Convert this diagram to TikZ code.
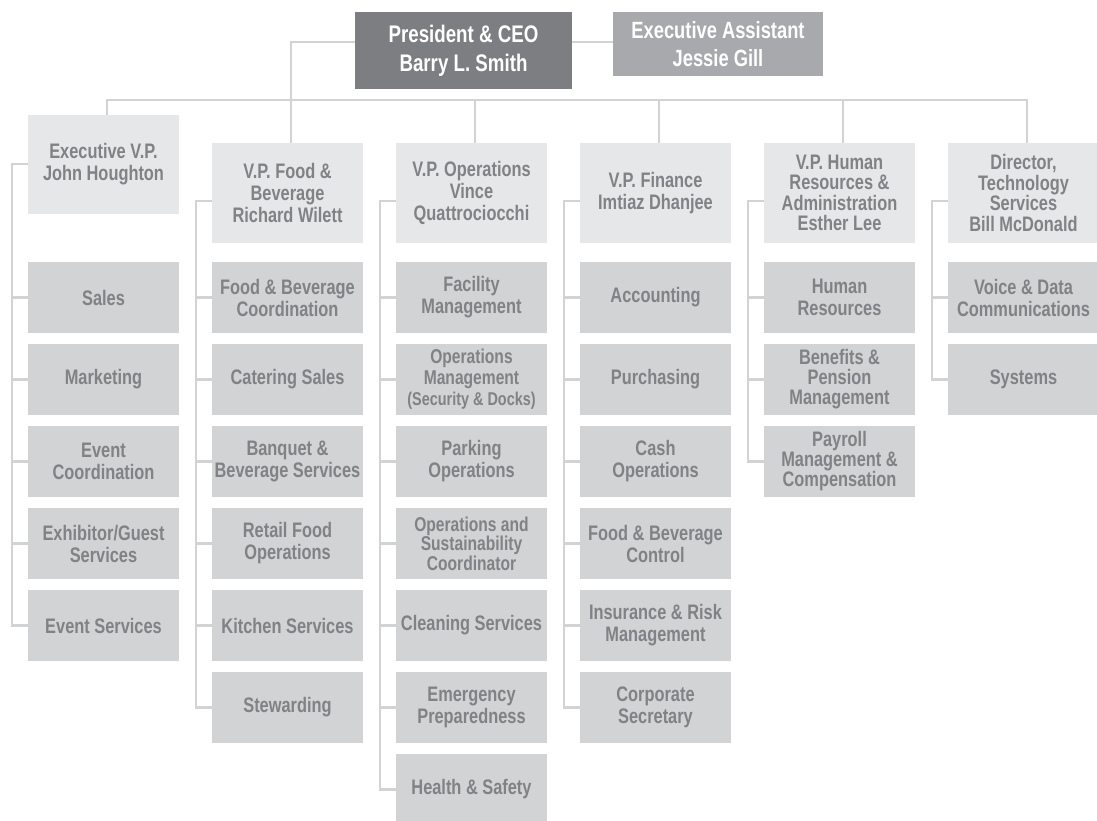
\documentclass[tikz,border=0pt]{standalone}
\usepackage{fontspec}
\newfontfamily\orgfont[FakeStretch=0.78]{Liberation Sans}
\definecolor{linec}{HTML}{D1D3D4}
\definecolor{vpc}{HTML}{E6E7E8}
\definecolor{unitc}{HTML}{D1D3D4}
\definecolor{textc}{HTML}{808285}
\definecolor{ceoc}{HTML}{7D7E81}
\definecolor{eac}{HTML}{A7A9AC}
\begin{document}
\begin{tikzpicture}[x=1pt,y=-1pt,
  conn/.style={draw=linec,line width=2.6pt},
  basebox/.style={rectangle,inner sep=0pt,align=center,text=textc,minimum width=151pt,
    font={\orgfont\bfseries\fontsize{21pt}{22pt}\selectfont}},
  tight/.style={font={\orgfont\bfseries\fontsize{21pt}{20pt}\selectfont}},
  small/.style={font={\orgfont\bfseries\fontsize{20pt}{19.5pt}\selectfont}},
  vpbox/.style={basebox,fill=vpc,minimum height=100pt},
  unitbox/.style={basebox,fill=unitc,minimum height=71pt},
  topbox/.style={rectangle,inner sep=0pt,align=center,text=white}]
\useasboundingbox (0,0) rectangle (1097,821);
\fill[white] (0,0) rectangle (1097,821);
\clip (0,0) rectangle (1097,821);

% top
\node[topbox,fill=ceoc,minimum width=217pt,minimum height=77pt,
  font={\orgfont\bfseries\fontsize{24pt}{29pt}\selectfont}] (ceo) at (463.5,50.5) {President \& CEO\\Barry L. Smith};
\node[topbox,fill=eac,minimum width=210pt,minimum height=64pt,
  font={\orgfont\bfseries\fontsize{23.5pt}{28pt}\selectfont}] (ea) at (718,44) {Executive Assistant\\Jessie Gill};

% VP row
\node[vpbox,minimum height=99pt] (vp1) at (103.5,164.5) {Executive V.P.\\John Houghton};
\node[vpbox] (vp2) at (287.5,193) {V.P. Food \&\\Beverage\\Richard Wilett};
\node[vpbox] (vp3) at (471.5,193) {V.P. Operations\\Vince\\Quattrociocchi};
\node[vpbox] (vp4) at (655.5,193) {V.P. Finance\\Imtiaz Dhanjee};
\node[vpbox,font={\orgfont\bfseries\fontsize{21pt}{20.5pt}\selectfont}] (vp5) at (839.5,193) {V.P. Human\\Resources \&\\Administration\\Esther Lee};
\node[vpbox,font={\orgfont\bfseries\fontsize{21pt}{20.5pt}\selectfont}] (vp6) at (1023.5,193) {Director,\\Technology\\Services\\Bill McDonald};

% column 1
\node[unitbox] (c1a) at (103.5,297.5) {Sales};
\node[unitbox] (c1b) at (103.5,379.5) {Marketing};
\node[unitbox] (c1c) at (103.5,461.5) {Event\\Coordination};
\node[unitbox] (c1d) at (103.5,543.5) {Exhibitor/Guest\\Services};
\node[unitbox] (c1e) at (103.5,625.5) {Event Services};

% column 2
\node[unitbox] (c2a) at (287.5,297.5) {Food \& Beverage\\Coordination};
\node[unitbox] (c2b) at (287.5,379.5) {Catering Sales};
\node[unitbox] (c2c) at (287.5,461.5) {Banquet \&\\Beverage Services};
\node[unitbox] (c2d) at (287.5,543.5) {Retail Food\\Operations};
\node[unitbox] (c2e) at (287.5,625.5) {Kitchen Services};
\node[unitbox] (c2f) at (287.5,707.5) {Stewarding};

% column 3
\node[unitbox,font={\orgfont\bfseries\fontsize{20pt}{21pt}\selectfont}] (c3b) at (471.5,379.5) {Operations\\Management\\{\fontsize{18.5pt}{19pt}\selectfont(Security \& Docks)}};
\node[unitbox] (c3a) at (471.5,297.5) {Facility\\Management};
\node[unitbox] (c3c) at (471.5,461.5) {Parking\\Operations};
\node[unitbox,small] (c3d) at (471.5,543.5) {Operations and\\Sustainability\\Coordinator};
\node[unitbox] (c3e) at (471.5,625.5) {Cleaning Services};
\node[unitbox] (c3f) at (471.5,707.5) {Emergency\\Preparedness};
\node[unitbox] (c3g) at (471.5,789.5) {Health \& Safety};

% column 4
\node[unitbox] (c4a) at (655.5,297.5) {Accounting};
\node[unitbox] (c4b) at (655.5,379.5) {Purchasing};
\node[unitbox] (c4c) at (655.5,461.5) {Cash\\Operations};
\node[unitbox] (c4d) at (655.5,543.5) {Food \& Beverage\\Control};
\node[unitbox] (c4e) at (655.5,625.5) {Insurance \& Risk\\Management};
\node[unitbox] (c4f) at (655.5,707.5) {Corporate\\Secretary};

% column 5
\node[unitbox] (c5a) at (839.5,297.5) {Human\\Resources};
\node[unitbox,tight] (c5b) at (839.5,379.5) {Benefits \&\\Pension\\Management};
\node[unitbox,tight] (c5c) at (839.5,461.5) {Payroll\\Management \&\\Compensation};

% column 6
\node[unitbox] (c6a) at (1023.5,297.5) {Voice \& Data\\Communications};
\node[unitbox] (c6b) at (1023.5,379.5) {Systems};

% connectors: top
\coordinate (j1) at (291,42);
\draw[conn] (ceo.west |- j1) -- (j1) -- (vp2.north -| j1);
\draw[conn] (ceo.east |- j1) -- (ea.west |- j1);
\coordinate (busL) at (107,100);
\coordinate (busR) at (1027,100);
\draw[conn] (vp1.north -| busL) -- (busL) -- (busR) -- (vp6.north -| busR);
\coordinate (d3) at (475,100);
\coordinate (d4) at (659,100);
\coordinate (d5) at (843,100);
\draw[conn] (d3) -- (vp3.north -| d3);
\draw[conn] (d4) -- (vp4.north -| d4);
\draw[conn] (d5) -- (vp5.north -| d5);

% branches
\coordinate (b1) at (12,164);
\coordinate (b2) at (196,201);
\coordinate (b3) at (380,201);
\coordinate (b4) at (564,201);
\coordinate (b5) at (748,201);
\coordinate (b6) at (932,201);
\draw[conn] (vp1.west |- b1) -- (b1) |- (c1e.west);
\foreach \c in {c1a,c1b,c1c,c1d} \draw[conn] (b1) |- (\c.west);
\draw[conn] (vp2.west |- b2) -- (b2) |- (c2f.west);
\foreach \c in {c2a,c2b,c2c,c2d,c2e} \draw[conn] (b2) |- (\c.west);
\draw[conn] (vp3.west |- b3) -- (b3) |- (c3g.west);
\foreach \c in {c3a,c3b,c3c,c3d,c3e,c3f} \draw[conn] (b3) |- (\c.west);
\draw[conn] (vp4.west |- b4) -- (b4) |- (c4f.west);
\foreach \c in {c4a,c4b,c4c,c4d,c4e} \draw[conn] (b4) |- (\c.west);
\draw[conn] (vp5.west |- b5) -- (b5) |- (c5c.west);
\foreach \c in {c5a,c5b} \draw[conn] (b5) |- (\c.west);
\draw[conn] (vp6.west |- b6) -- (b6) |- (c6b.west);
\draw[conn] (b6) |- (c6a.west);
\end{tikzpicture}
\end{document}
